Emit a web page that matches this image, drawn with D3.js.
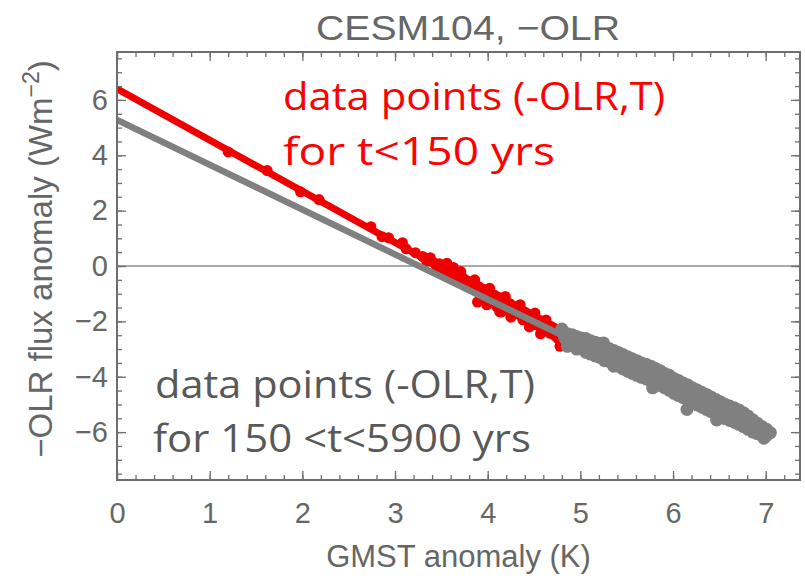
<!DOCTYPE html>
<html><head><meta charset="utf-8">
<script src="https://cdn.jsdelivr.net/npm/d3@7"></script>
<style>body{margin:0;background:#fff}svg{display:block}</style>
</head><body><svg id="c" width="805" height="583"></svg>
<script>
// ---- data ----
const titleText = "CESM104, \u2212OLR";
const xLabel = "GMST anomaly (K)";
const xDomain = [0, 7.37];
const yDomain = [-7.73, 7.73];
const xTicks = [0, 1, 2, 3, 4, 5, 6, 7];
const yTicks = [-6, -4, -2, 0, 2, 4, 6];
const redFit = {intercept: 6.40, slope: -1.85, from: 0, to: 4.82};
const grayFit = {intercept: 5.28, slope: -1.62, from: 0, to: 4.85};
const redPoints = [
[1.20,4.12],[1.62,3.45],[1.98,2.68],[2.18,2.40],[2.74,1.42],[2.86,1.06],[2.93,1.02],[3.08,0.84],
[3.12,0.62],[3.22,0.48],[3.30,0.34],[3.34,0.18],[3.38,0.30],[3.42,0.12],[3.45,-0.05],[3.48,0.08],
[3.50,-0.02],[3.53,-0.20],[3.55,-0.08],[3.58,-0.30],[3.60,-0.15],[3.62,-0.38],[3.64,-0.24],[3.66,-0.45],
[3.68,-0.32],[3.70,-0.52],[3.72,-0.40],[3.74,-0.60],[3.75,-0.48],[3.77,-0.70],[3.79,-0.55],[3.80,-0.76],
[3.82,-0.60],[3.84,-0.82],[3.85,-0.66],[3.87,-0.90],[3.89,-1.30],[3.90,-0.74],[3.92,-0.98],[3.94,-0.82],
[3.96,-1.05],[3.98,-0.88],[4.00,-1.34],[4.01,-1.12],[4.03,-0.98],[4.05,-1.20],[4.07,-1.05],[4.09,-1.28],
[4.11,-1.12],[4.13,-1.66],[4.14,-1.36],[4.16,-1.22],[4.18,-1.45],[4.20,-1.28],[4.22,-1.52],[4.24,-1.36],
[4.26,-1.60],[4.28,-1.45],[4.30,-1.68],[4.32,-1.52],[4.34,-1.75],[4.36,-1.58],[4.38,-1.95],[4.40,-1.66],
[4.42,-1.92],[4.44,-1.74],[4.46,-2.00],[4.48,-1.80],[4.50,-2.08],[4.52,-1.88],[4.54,-2.14],[4.56,-1.96],
[4.58,-2.22],[4.60,-2.04],[4.62,-2.30],[4.64,-2.10],[4.66,-2.38],[4.68,-2.18],[4.70,-2.46],[4.72,-2.25],
[4.74,-2.55],[4.76,-2.62],[4.78,-2.90],[4.80,-2.70],[4.82,-2.60],[3.99,-1.40],[4.15,-1.66],[4.67,-2.42],
[3.56,0.10],[3.63,-0.05],[3.71,-0.20],[3.86,-0.50],[4.02,-0.80],[4.19,-1.10],[4.35,-1.40],[4.51,-1.70],
[4.63,-1.95],[4.25,-1.85],[4.45,-2.20],[4.57,-2.45],[3.93,-1.15],[4.10,-1.48],[4.75,-2.30]
];
const grayPoints = [
[4.80,-2.28],[4.83,-2.60],[4.86,-2.45],[4.86,-2.72],[4.86,-2.90],[4.91,-2.48],[4.91,-2.80],
[4.96,-2.55],[4.96,-2.78],[4.96,-3.00],[5.01,-2.60],[5.01,-2.95],[5.06,-2.62],[5.06,-2.90],[5.06,-3.12],
[5.11,-2.70],[5.11,-3.18],[5.16,-2.75],[5.16,-3.02],[5.16,-3.25],[5.21,-2.80],[5.21,-3.30],
[5.25,-2.78],[5.26,-2.88],[5.26,-3.12],[5.26,-3.42],[5.31,-2.98],[5.31,-3.45],[5.36,-3.05],[5.36,-3.28],
[5.36,-3.55],[5.36,-3.62],[5.41,-3.12],[5.41,-3.62],[5.46,-3.20],[5.46,-3.44],[5.46,-3.72],
[5.51,-3.28],[5.51,-3.80],[5.56,-3.35],[5.56,-3.62],[5.56,-3.88],[5.61,-3.42],[5.61,-3.95],
[5.66,-3.50],[5.66,-3.76],[5.66,-4.02],[5.71,-3.55],[5.71,-4.08],[5.76,-3.62],[5.76,-3.90],[5.76,-4.15],
[5.78,-4.40],[5.81,-3.70],[5.81,-4.22],[5.86,-3.78],[5.86,-4.06],[5.86,-4.32],[5.91,-3.88],[5.91,-4.40],
[5.96,-3.95],[5.96,-4.23],[5.96,-4.49],[6.01,-4.06],[6.01,-4.60],[6.06,-4.14],[6.06,-4.42],[6.06,-4.68],
[6.11,-4.23],[6.11,-4.76],[6.15,-5.18],[6.16,-4.30],[6.16,-4.58],[6.16,-4.84],[6.21,-4.40],[6.21,-4.93],
[6.26,-4.48],[6.26,-4.76],[6.26,-5.02],[6.31,-4.56],[6.31,-5.10],[6.36,-4.64],[6.36,-4.93],[6.36,-5.18],
[6.41,-4.73],[6.41,-5.26],[6.46,-4.82],[6.46,-5.10],[6.46,-5.35],[6.47,-5.56],[6.51,-4.90],[6.51,-5.44],
[6.56,-4.99],[6.56,-5.25],[6.56,-5.51],[6.61,-5.06],[6.61,-5.58],[6.66,-5.12],[6.66,-5.40],[6.66,-5.64],
[6.71,-5.20],[6.71,-5.72],[6.76,-5.30],[6.76,-5.56],[6.76,-5.80],[6.81,-5.42],[6.81,-5.90],
[6.86,-5.55],[6.86,-5.78],[6.86,-6.00],[6.91,-5.68],[6.91,-6.06],[6.96,-5.80],[6.96,-6.10],
[6.98,-6.22],[7.01,-5.90],[7.01,-6.12],[7.05,-6.02]
];

// ---- layout ----
const svg = d3.select("#c");
const L = 117, R = 800, T = 52, B = 480;
const x = d3.scaleLinear(xDomain, [L, R]);
const y = d3.scaleLinear(yDomain, [B, T]);
const axisColor = "#6e6e6e";
const textColor = "#666666";
const font = "'Liberation Sans', Arial, sans-serif";

svg.append("defs").append("clipPath").attr("id","clip")
  .append("rect").attr("x",L).attr("y",T).attr("width",R-L).attr("height",B-T);

// title
svg.append("text").attr("x",468).attr("y",40).attr("text-anchor","middle")
  .attr("font-family",font).attr("font-size",35).attr("fill",textColor)
  .attr("textLength",304).attr("lengthAdjust","spacingAndGlyphs").text(titleText);

// zero line
svg.append("line").attr("x1",L).attr("x2",R).attr("y1",y(0)).attr("y2",y(0))
  .attr("stroke","#555").attr("stroke-width",1.2);

const plot = svg.append("g").attr("clip-path","url(#clip)");
const fitLine = f => [[f.from, f.intercept + f.slope*f.from],[f.to, f.intercept + f.slope*f.to]];
const line = d3.line().x(d=>x(d[0])).y(d=>y(d[1]));

plot.append("g").selectAll("circle").data(redPoints).join("circle")
  .attr("cx",d=>x(d[0])).attr("cy",d=>y(d[1])).attr("r",5.5).attr("fill","#ee0000");
plot.append("path").datum(fitLine(redFit)).attr("d",line)
  .attr("stroke","#ee0000").attr("stroke-width",7).attr("fill","none");
plot.append("path").datum(fitLine(grayFit)).attr("d",line)
  .attr("stroke","#808080").attr("stroke-width",6.5).attr("fill","none");
plot.append("g").selectAll("circle").data(grayPoints).join("circle")
  .attr("cx",d=>x(d[0])).attr("cy",d=>y(d[1])).attr("r",6.5).attr("fill","#808080");

// axes (ticks inside frame)
const xMinor = d3.range(0, 7.37, 0.2);
const yMinor = d3.range(-7.5, 7.6, 0.5);
function styleAxis(g){
  g.select(".domain").remove();
  g.selectAll("line").attr("stroke",axisColor).attr("stroke-width",1.3);
  g.selectAll("text").attr("font-family",font).attr("font-size",29).attr("fill",textColor);
}
svg.append("g").attr("transform",`translate(0,${B})`)
  .call(d3.axisBottom(x).tickValues(xMinor).tickSize(-5).tickFormat("")).call(styleAxis);
svg.append("g").attr("transform",`translate(0,${B})`)
  .call(d3.axisBottom(x).tickValues(xTicks).tickSize(-9).tickPadding(22).tickFormat(d3.format("d"))).call(styleAxis);
svg.append("g").attr("transform",`translate(0,${T})`)
  .call(d3.axisTop(x).tickValues(xMinor).tickSize(-5).tickFormat("")).call(styleAxis);
svg.append("g").attr("transform",`translate(0,${T})`)
  .call(d3.axisTop(x).tickValues(xTicks).tickSize(-9).tickFormat("")).call(styleAxis);
svg.append("g").attr("transform",`translate(${L},0)`)
  .call(d3.axisLeft(y).tickValues(yMinor).tickSize(-5).tickFormat("")).call(styleAxis);
svg.append("g").attr("transform",`translate(${L},0)`)
  .call(d3.axisLeft(y).tickValues(yTicks).tickSize(-9).tickPadding(9).tickFormat(d3.format("d"))).call(styleAxis);
svg.append("g").attr("transform",`translate(${R},0)`)
  .call(d3.axisRight(y).tickValues(yMinor).tickSize(-5).tickFormat("")).call(styleAxis);
svg.append("g").attr("transform",`translate(${R},0)`)
  .call(d3.axisRight(y).tickValues(yTicks).tickSize(-9).tickFormat("")).call(styleAxis);

// frame
svg.append("rect").attr("x",L).attr("y",T).attr("width",R-L).attr("height",B-T)
  .attr("fill","none").attr("stroke",axisColor).attr("stroke-width",2);

// axis labels
svg.append("text").attr("x",(L+R)/2).attr("y",567).attr("text-anchor","middle")
  .attr("font-family",font).attr("font-size",31).attr("fill",textColor).text(xLabel);
const yl = svg.append("text").attr("transform",`translate(52,${(T+B)/2-7}) rotate(-90)`)
  .attr("text-anchor","middle").attr("font-family",font).attr("font-size",33).attr("fill",textColor);
yl.append("tspan").text("\u2212OLR flux anomaly (Wm");
yl.append("tspan").attr("dy",-13).attr("font-size",23).text("\u22122");
yl.append("tspan").attr("dy",13).text(")");

// annotations
const annFont = "'Open Sans', 'Noto Sans', sans-serif";
svg.append("text").attr("x",283).attr("y",110).attr("font-family",annFont).attr("font-size",38)
  .attr("fill","#ff0000").attr("textLength",382).attr("lengthAdjust","spacingAndGlyphs").text("data points (-OLR,T)");
svg.append("text").attr("x",283).attr("y",165).attr("font-family",annFont).attr("font-size",38)
  .attr("fill","#ff0000").attr("textLength",272).attr("lengthAdjust","spacingAndGlyphs").text("for t<150 yrs");
svg.append("text").attr("x",155).attr("y",398).attr("font-family",annFont).attr("font-size",38)
  .attr("fill","#595959").attr("textLength",380).attr("lengthAdjust","spacingAndGlyphs").text("data points (-OLR,T)");
svg.append("text").attr("x",153).attr("y",452).attr("font-family",annFont).attr("font-size",38)
  .attr("fill","#595959").attr("textLength",378).attr("lengthAdjust","spacingAndGlyphs").text("for 150 <t<5900 yrs");
</script></body></html>
